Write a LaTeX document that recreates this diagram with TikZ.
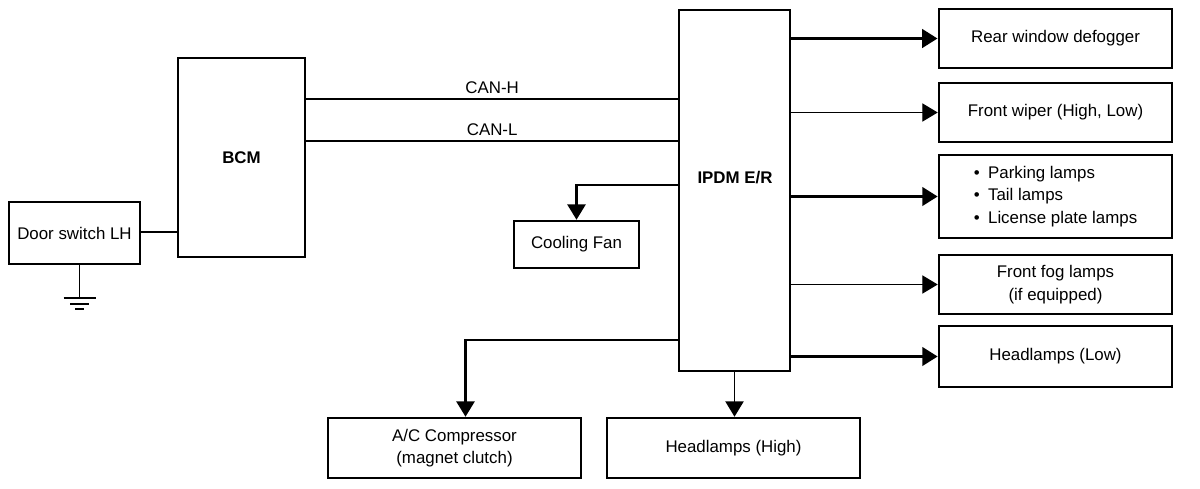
\documentclass[tikz,border=0pt]{standalone}
\usepackage{fontspec}
\setmainfont{Liberation Sans}
\usetikzlibrary{arrows.meta,calc}
\tikzset{
  box/.style={draw,line width=1.8pt,align=center,inner sep=2pt},
  loadbox/.style={box,minimum width=5.825cm,minimum height=1.475cm},
  lowbox/.style={box,minimum width=6.325cm,minimum height=1.5cm},
  wire/.style={line width=1.4pt},
  feed/.style={-{Triangle[length=11pt,width=13pt]}},
  feedbold/.style={feed,line width=2.5pt},
  feedmid/.style={feed,line width=1.6pt},
  feedthin/.style={feed,line width=0.8pt}
}

\begin{document}
\begin{tikzpicture}[x=0.025cm,y=-0.025cm,font=\fontsize{12}{16}\selectfont]
\useasboundingbox (0,0) rectangle (1200,488);

\node[box,minimum width=3.275cm,minimum height=1.55cm] (door) at (74.5,233) {Door switch LH};
\node[box,minimum width=3.175cm,minimum height=4.975cm] (bcm) at (241.5,157.5) {\bfseries BCM};
\node[box,line width=1.3pt,minimum width=2.775cm,minimum height=9.025cm] (ipdm) at (734.5,190.5) {};
\node[inner sep=1pt] (ipdmlbl) at (735,178) {\bfseries IPDM E/R};
\node[box,minimum width=3.125cm,minimum height=1.175cm] (cool) at (576.5,244.5) {Cooling Fan};

\node[loadbox,line width=2pt] (rwd) at (1055.5,38.5) {Rear window defogger};
\node[loadbox] (wiper) at (1055.5,112.5) {Front wiper (High, Low)};
\node[loadbox,minimum height=2.075cm,align=left] (park) at (1055.5,196.5)
  {\textbullet\hspace{6pt}Parking lamps\\ \textbullet\hspace{6pt}Tail lamps\\ \textbullet\hspace{6pt}License plate lamps};
\node[loadbox] (fog) at (1055.5,284.5) {Front fog lamps\\(if equipped)};
\node[loadbox,minimum height=1.525cm] (hlow) at (1055.5,356.5) {Headlamps (Low)};

\node[lowbox] (ac) at (454.5,448) {A/C Compressor\\(magnet clutch)};
\node[lowbox] (hhigh) at (733.5,448) {Headlamps (High)};

\draw[wire] (door.east |- 0,232) -- (bcm.west |- 0,232);
\draw[wire] ([xshift=0.125cm]door.south) -- ++(0,33) coordinate (gnd);
\draw[wire] ($(gnd)+(-16,0)$) -- ($(gnd)+(16,0)$);
\draw[wire] ($(gnd)+(-9.5,6)$) -- ($(gnd)+(9.5,6)$);
\draw[wire] ($(gnd)+(-4.5,11)$) -- ($(gnd)+(4.5,11)$);

\draw[wire] (bcm.east |- 0,99) -- node[above] (canh) {CAN-H} (ipdm.west |- 0,99);
\draw[wire] (bcm.east |- 0,141) -- node[above] (canl) {CAN-L} (ipdm.west |- 0,141);

\draw[feedmid] (ipdm.west |- 0,185) -| (cool.north);
\draw[feedmid] (ipdm.west |- 0,340) -| ([xshift=0.275cm]ac.north);
\draw[feedmid,line width=1.2pt] (ipdm.south) -- (ipdm.south |- hhigh.north);

\draw[feedbold] (ipdm.east |- rwd) -- (rwd.west);
\draw[feedthin] (ipdm.east |- wiper) -- (wiper.west);
\draw[feedbold] (ipdm.east |- park) -- (park.west);
\draw[feedthin] (ipdm.east |- fog) -- (fog.west);
\draw[feedbold] (ipdm.east |- hlow) -- (hlow.west);

\end{tikzpicture}
\end{document}
